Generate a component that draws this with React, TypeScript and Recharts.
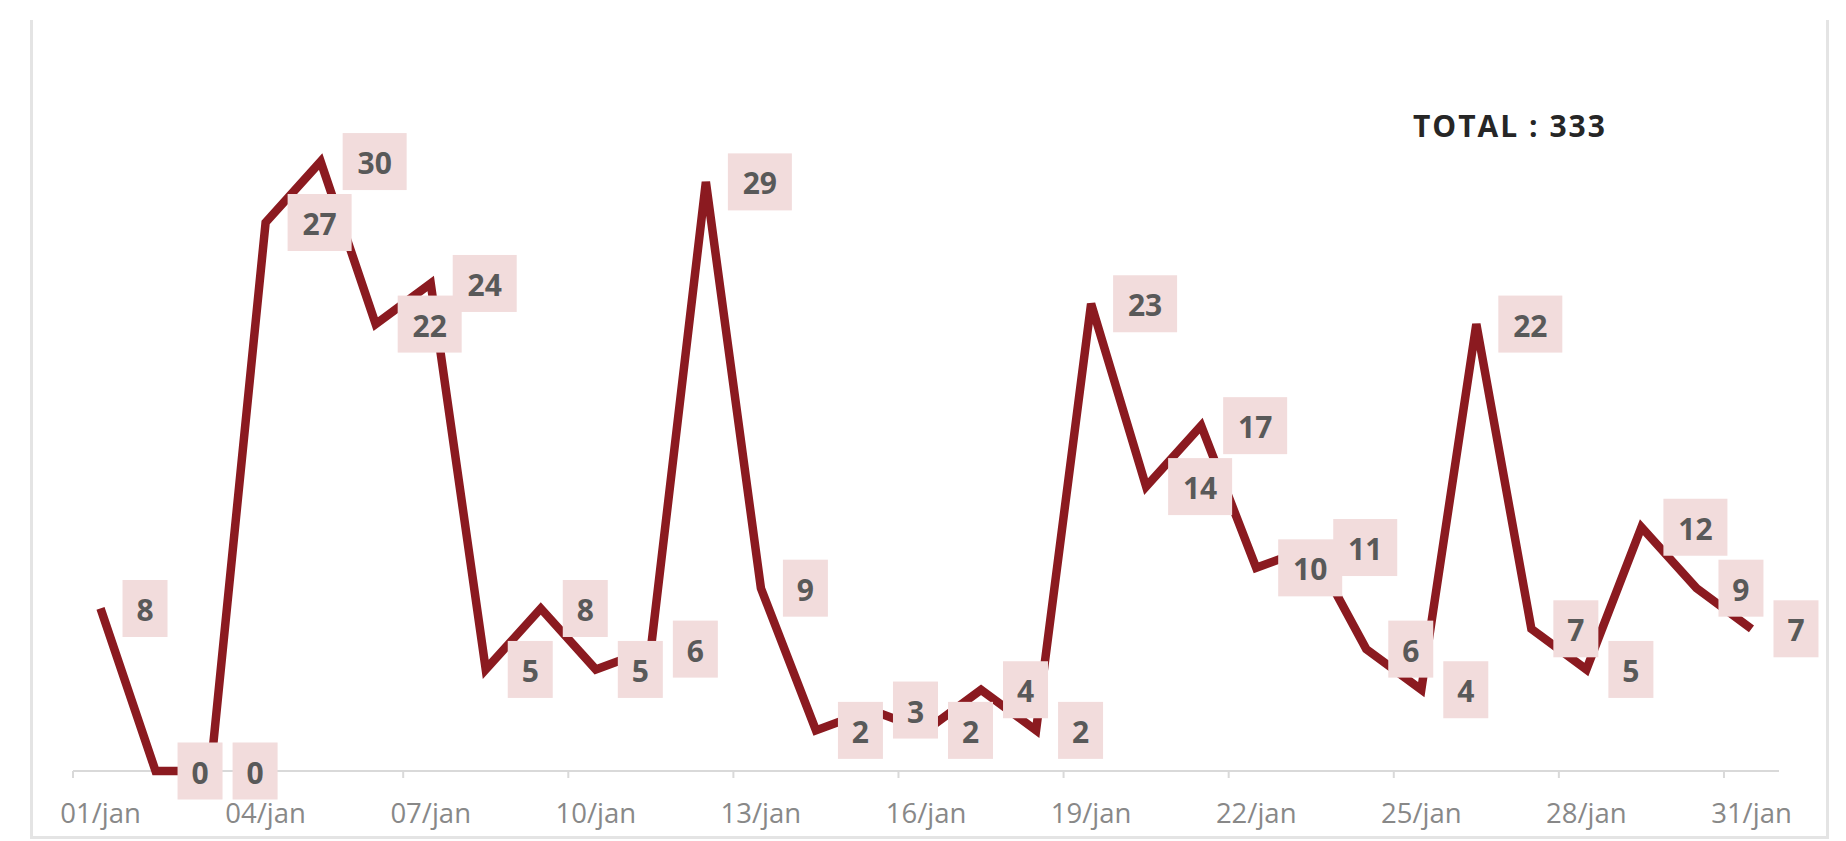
import React from 'react';
import { LineChart, Line, XAxis, YAxis, LabelList } from 'recharts';

const DAY_LABELS = [
  '01/jan', '02/jan', '03/jan', '04/jan', '05/jan', '06/jan', '07/jan', '08/jan', '09/jan', '10/jan',
  '11/jan', '12/jan', '13/jan', '14/jan', '15/jan', '16/jan', '17/jan', '18/jan', '19/jan', '20/jan',
  '21/jan', '22/jan', '23/jan', '24/jan', '25/jan', '26/jan', '27/jan', '28/jan', '29/jan', '30/jan', '31/jan',
];
const VALUES = [8, 0, 0, 27, 30, 22, 24, 5, 8, 5, 6, 29, 9, 2, 3, 2, 4, 2, 23, 14, 17, 10, 11, 6, 4, 22, 7, 5, 12, 9, 7];
const TICK_DAYS = [1, 4, 7, 10, 13, 16, 19, 22, 25, 28, 31];
const TOTAL_TEXT = 'TOTAL : 333';

const data = DAY_LABELS.map((label, i) => ({ day: i + 1, label, value: VALUES[i] }));

const W = 1846;
const H = 841;
const MARGIN = { top: 60, right: 67, left: 73, bottom: 0 };
const AXIS_H = 70;
const PLOT_BOTTOM = H - AXIS_H;
const PLOT_W = W - MARGIN.left - MARGIN.right;
const BAND = PLOT_W / DAY_LABELS.length;

const AXIS_COLOR = '#d9d9d9';
const LINE_COLOR = '#8B1A20';
const BOX_COLOR = '#F2DCDC';
const LABEL_TEXT = '#595959';
const FONT = '"Open Sans", Lato, sans-serif';

const AxisTick = (props: any) => {
  const { x, payload } = props;
  const bx = x - BAND / 2;
  return (
    <g>
      <line x1={bx} x2={bx} y1={PLOT_BOTTOM} y2={PLOT_BOTTOM + 7} stroke={AXIS_COLOR} strokeWidth={2} />
      <text
        x={x}
        y={PLOT_BOTTOM + 41}
        textAnchor="middle"
        dominantBaseline="central"
        fontFamily={FONT}
        fontSize={27.5}
        fill="#888888"
      >
        {DAY_LABELS[payload.value - 1]}
      </text>
    </g>
  );
};

const DataLabel = (props: any) => {
  const { x, y, value } = props;
  if (x == null || y == null) return null;
  const s = String(value);
  const w = 26 + 19 * s.length;
  const h = 57;
  const left = x + 22;
  return (
    <g>
      <rect x={left} y={y - h / 2} width={w} height={h} fill={BOX_COLOR} />
      <text
        x={left + w / 2}
        y={y + 1}
        textAnchor="middle"
        dominantBaseline="central"
        fontFamily={FONT}
        fontWeight={700}
        fontSize={30}
        fill={LABEL_TEXT}
      >
        {s}
      </text>
    </g>
  );
};

export default function App() {
  return (
    <div style={{ position: 'absolute', left: 0, top: 0, width: W, height: H, background: '#fff' }}>
      <div
        style={{
          position: 'absolute',
          left: 30,
          top: 20,
          width: 1793,
          height: 816,
          borderLeft: '3px solid #e4e4e4',
          borderRight: '3px solid #e4e4e4',
          borderBottom: '3px solid #e4e4e4',
        }}
      />
      {/* category axis baseline, drawn beneath the series */}
      <div
        style={{
          position: 'absolute',
          left: MARGIN.left,
          top: PLOT_BOTTOM - 1,
          width: PLOT_W,
          height: 2,
          background: AXIS_COLOR,
        }}
      />
      <div style={{ position: 'absolute', left: 0, top: 0 }}>
        <LineChart width={W} height={H} data={data} margin={MARGIN}>
          <XAxis
            dataKey="day"
            type="number"
            domain={[0.5, 31.5]}
            ticks={TICK_DAYS}
            interval={0}
            tickLine={false}
            axisLine={false}
            height={AXIS_H}
            tick={<AxisTick />}
          />
          <YAxis hide width={0} domain={[0, 35]} />
          <Line
            type="linear"
            dataKey="value"
            stroke={LINE_COLOR}
            strokeWidth={8.5}
            strokeLinejoin="miter"
            strokeLinecap="butt"
            dot={false}
            activeDot={false}
            isAnimationActive={false}
          >
            <LabelList dataKey="value" content={<DataLabel />} />
          </Line>
        </LineChart>
      </div>
      <div
        style={{
          position: 'absolute',
          left: 1413,
          top: 106,
          fontFamily: FONT,
          fontWeight: 700,
          fontSize: 30,
          lineHeight: '40px',
          color: '#262626',
          letterSpacing: 2,
          whiteSpace: 'nowrap',
        }}
      >
        {TOTAL_TEXT}
      </div>
    </div>
  );
}
